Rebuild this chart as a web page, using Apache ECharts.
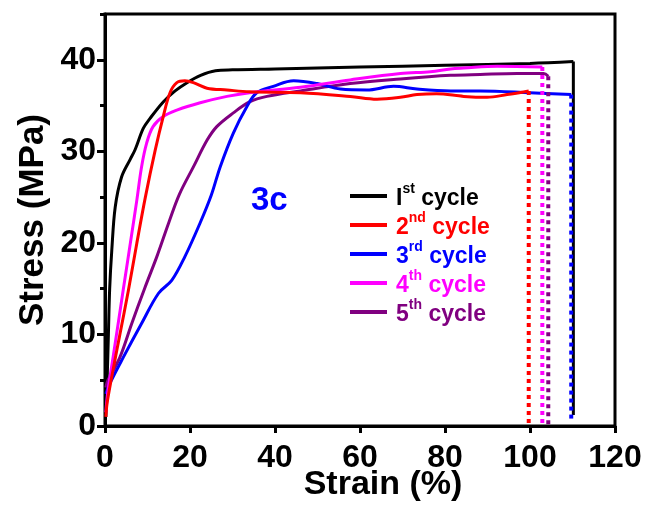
<!DOCTYPE html>
<html><head><meta charset="utf-8">
<script src="https://cdn.jsdelivr.net/npm/echarts@6/dist/echarts.min.js"></script>
<style>html,body{margin:0;padding:0;background:#fff}#c{width:648px;height:508px}</style>
</head><body><div id="c"></div>
<script>
// ---- data ----
const seriesNames = ['Ist cycle', '2nd cycle', '3rd cycle', '4th cycle', '5th cycle'];
const legendBase = ['I', '2', '3', '4', '5'];
const legendSup = ['st', 'nd', 'rd', 'th', 'th'];
const colors = ['#000000', '#ff0000', '#0000ff', '#ff00ff', '#800080'];

const c1x = [0.2, 0.5, 0.8, 1.1, 1.6, 2.4, 3.9, 5.9, 7.1, 9.0, 10.6, 13.7, 16.5, 19.3, 22.5, 26.0, 30, 40, 60, 80, 100, 110.2];
const c1y = [1, 5, 10, 15, 19.2, 23.9, 27.2, 29.1, 30.2, 32.5, 33.6, 35.4, 36.6, 37.5, 38.3, 38.8, 38.9, 39.0, 39.2, 39.4, 39.6, 39.8];

const c2x = [0.2, 0.5, 1.6, 3.5, 5.5, 7.5, 9.5, 11.8, 13.7, 15.3, 16.9, 18.8, 20.8, 24.0, 28.7, 34, 46, 57.7, 64, 69.5, 73.4, 78, 84.4, 89.9, 94.6, 99.7];
const c2y = [1.0, 2.5, 5.4, 10, 14.8, 20, 25, 30.1, 33.8, 36.4, 37.5, 37.7, 37.5, 36.9, 36.7, 36.5, 36.4, 36.0, 35.7, 35.9, 36.2, 36.3, 36.0, 35.9, 36.2, 36.6];

const c3x = [0.2, 1.2, 4.3, 8.6, 12.6, 15.7, 18.8, 22.4, 25, 27.1, 30.2, 33.4, 35.7, 39.6, 44.4, 49.9, 55.4, 61.6, 67.9, 73.4, 81.3, 88.3, 100, 109.7];
const c3y = [3.5, 4.7, 7.5, 11.2, 14.5, 15.9, 18.5, 22.2, 25.2, 28.3, 32.0, 34.9, 36.4, 37.1, 37.7, 37.4, 36.8, 36.7, 37.1, 36.8, 36.6, 36.6, 36.4, 36.2];

const c4x = [0.2, 0.7, 1.9, 4.3, 6.3, 7.5, 8.6, 9.8, 11.3, 13.7, 16.9, 22.4, 28.7, 34, 46, 57.7, 69.5, 76.6, 81.3, 84.4, 92.3, 102.9];
const c4y = [1.5, 3.9, 7.5, 14.9, 21, 24.7, 28.3, 30.9, 32.7, 33.8, 34.5, 35.3, 36.0, 36.4, 37.0, 37.8, 38.5, 38.7, 39.0, 39.1, 39.3, 39.2];

const c5x = [0.2, 0.7, 3.5, 6.3, 9.3, 12.2, 15, 17.5, 20.8, 24, 26.3, 30.2, 34, 38.1, 46, 57.7, 69.5, 81.3, 88.3, 97, 103.2, 104.3];
const c5y = [4.2, 5, 7.5, 11.2, 15, 18.5, 22.2, 25.3, 28.3, 31.2, 32.7, 34.2, 35.4, 36.0, 36.6, 37.4, 37.9, 38.3, 38.4, 38.5, 38.5, 38.2];

// failure drops (strain at break, stress before and after)
const dropX = [110.2, 99.7, 109.7, 102.9, 104.3];
const dropTop = [39.8, 36.6, 36.2, 39.2, 38.2];
const dropBottom = [1.2, 0, 0.7, 0, 0];

const xMin = 0, xMax = 120, xStep = 20;
const yMin = 0, yMax = 45, yStep = 10, yMinorStep = 5;

// ---- build ----
const FONT = '"Liberation Sans", Arial, sans-serif';
const curves = [[c1x, c1y], [c2x, c2y], [c3x, c3y], [c4x, c4y], [c5x, c5y]];
const zip = (xs, ys) => xs.map((x, i) => [x, ys[i]]);
const drawOrder = [0, 4, 2, 3, 1];

const series = [];
drawOrder.forEach(i => {
  series.push({
    name: seriesNames[i], type: 'line', data: zip(curves[i][0], curves[i][1]),
    showSymbol: false, symbol: 'none', smooth: 0.35,
    lineStyle: { color: colors[i], width: 3 }, itemStyle: { color: colors[i] },
    xAxisIndex: 0, yAxisIndex: 0, z: 3
  });
});
[0, 1, 3, 4, 2].forEach(i => {
  series.push({
    name: seriesNames[i] + ' break', type: 'line',
    data: [[dropX[i], dropTop[i]], [dropX[i], dropBottom[i]]],
    showSymbol: false, symbol: 'none',
    lineStyle: { color: colors[i], width: i === 0 ? 3 : 4, type: i === 0 ? 'solid' : [4, 4] },
    xAxisIndex: 0, yAxisIndex: 0, z: 3
  });
});

const rich = {};
colors.forEach((c, i) => {
  rich['b' + i] = { fontSize: 23, fontWeight: 'bold', fontFamily: FONT, color: c, lineHeight: 28, verticalAlign: 'bottom' };
  rich['s' + i] = { fontSize: 14, fontWeight: 'bold', fontFamily: FONT, color: c, lineHeight: 14, verticalAlign: 'top' };
});

const option = {
  animation: false,
  backgroundColor: '#fff',
  grid: { left: 105, right: 33, top: 14, bottom: 82, outerBoundsMode: 'none', containLabel: false,
          show: true, borderColor: '#000', borderWidth: 3, backgroundColor: 'transparent' },
  xAxis: [{
    type: 'value', min: xMin, max: xMax, interval: xStep,
    name: 'Strain (%)', nameLocation: 'middle', nameGap: 42, nameMoveOverlap: false,
    nameTextStyle: { fontSize: 34, fontWeight: 'bold', fontFamily: FONT, color: '#000', padding: [0, 0, 0, 46] },
    axisLine: { show: true, onZero: false, lineStyle: { color: '#000', width: 3 } },
    axisTick: { show: true, inside: false, length: 7, lineStyle: { color: '#000', width: 3 } },
    axisLabel: { fontSize: 32, fontWeight: 'bold', fontFamily: FONT, color: '#000', margin: 16 },
    splitLine: { show: false }
  }],
  yAxis: [{
    type: 'value', min: yMin, max: yMax, interval: yStep,
    name: 'Stress (MPa)', nameLocation: 'middle', nameGap: 54, nameMoveOverlap: false,
    nameTextStyle: { fontSize: 35, fontWeight: 'bold', fontFamily: FONT, color: '#000' },
    axisLine: { show: true, onZero: false, lineStyle: { color: '#000', width: 3 } },
    axisTick: { show: true, inside: false, length: 8, lineStyle: { color: '#000', width: 3 } },
    axisLabel: { fontSize: 32, fontWeight: 'bold', fontFamily: FONT, color: '#000', margin: 9, showMaxLabel: false },
    splitLine: { show: false }
  }, {
    type: 'value', min: yMin, max: yMax, interval: yMinorStep, position: 'left',
    axisLine: { show: false },
    axisTick: { show: true, inside: false, length: 5, lineStyle: { color: '#000', width: 3 } },
    axisLabel: { show: false }, splitLine: { show: false }
  }],
  legend: {
    orient: 'vertical', left: 345, top: 177, itemGap: 1,
    icon: 'rect', itemWidth: 37, itemHeight: 4,
    data: seriesNames.map((n, i) => ({ name: n, itemStyle: { color: colors[i] } })),
    formatter: name => {
      const i = seriesNames.indexOf(name);
      return '{b' + i + '|' + legendBase[i] + '}{s' + i + '|' + legendSup[i] + '}{b' + i + '| cycle}';
    },
    textStyle: { fontSize: 23, fontWeight: 'bold', fontFamily: FONT, padding: [0, 0, 0, 4], rich: rich },
    selectedMode: false
  },
  graphic: [{
    type: 'text', left: 251, top: 184,
    style: { text: '3c', font: 'bold 33px "Liberation Sans", Arial, sans-serif', fill: '#0000ff' }
  }],
  series: series
};
const chart = echarts.init(document.getElementById('c'), null, { renderer: 'canvas' });
chart.setOption(option);
</script>
</body></html>
